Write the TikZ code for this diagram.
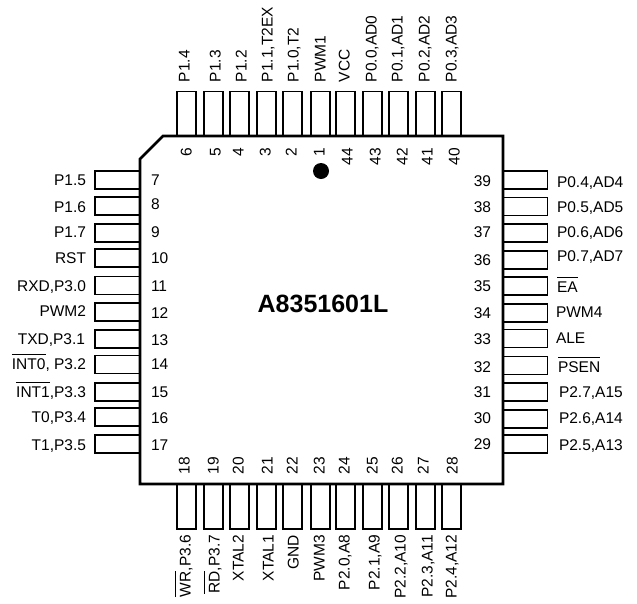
\documentclass[tikz,border=0pt]{standalone}
\usepackage{fontspec}
\setmainfont{Liberation Sans}
\newcommand{\barlabel}[1]{\vbox{\hrule height 1pt\kern 4pt\hbox{#1}}}
\begin{document}
\begin{tikzpicture}[
    x=1pt, y=-1pt,
    pinbase/.style={rectangle, draw, line width=1.4pt, inner sep=0pt, outer sep=0pt},
    hpin/.style={pinbase, minimum width=45pt, minimum height=18pt},
    vpin/.style={pinbase, minimum width=19pt, minimum height=45pt},
    txt/.style={font=\fontsize{15.5}{17}\selectfont, inner sep=0pt, outer sep=0pt},
    lname/.style={txt, anchor=base east, yshift=-5.5pt},
    rname/.style={txt, anchor=base west, yshift=-5.5pt},
    tname/.style={txt, anchor=base west, xshift=5.5pt, rotate=90},
    bname/.style={txt, anchor=base east, xshift=5.5pt, rotate=90},
    lnum/.style={txt, anchor=base west, yshift=-5.5pt},
    rnum/.style={txt, anchor=base east, yshift=-5.5pt},
    tnum/.style={txt, anchor=base east, xshift=5.5pt, rotate=90},
    bnum/.style={txt, anchor=base west, xshift=5.5pt, rotate=90}
]
    \useasboundingbox (0,0) rectangle (637,603);

    % Left pins
    \node[hpin] (pin7) at (117.5,180) {};  \node[lnum] (num7) at (151,180) {7};   \node[lname] (name7) at (86,180) {P1.5};
    \node[hpin] (pin8) at (117.5,206) {};  \node[lnum] (num8) at (151,204) {8};   \node[lname] (name8) at (86,207) {P1.6};
    \node[hpin] (pin9) at (117.5,233) {};  \node[lnum] (num9) at (151,232) {9};   \node[lname] (name9) at (86,232) {P1.7};
    \node[hpin] (pin10) at (117.5,258) {}; \node[lnum] (num10) at (151,258) {10}; \node[lname] (name10) at (86,258) {RST};
    \node[hpin] (pin11) at (117.5,285.5) {}; \node[lnum] (num11) at (151,286) {11}; \node[lname] (name11) at (86,286) {RXD,P3.0};
    \node[hpin] (pin12) at (117.5,312) {}; \node[lnum] (num12) at (151,313) {12}; \node[lname] (name12) at (86,311) {PWM2};
    \node[hpin] (pin13) at (117.5,339) {}; \node[lnum] (num13) at (151,340) {13}; \node[lname] (name13) at (85,339) {TXD,P3.1};
    \node[hpin] (pin14) at (117.5,364.5) {}; \node[lnum] (num14) at (151,364) {14}; \node[lname] (name14) at (86,364) {\barlabel{INT0}, P3.2};
    \node[hpin] (pin15) at (117.5,392) {}; \node[lnum] (num15) at (151,392) {15}; \node[lname] (name15) at (86,392) {\barlabel{INT1},P3.3};
    \node[hpin] (pin16) at (117.5,417) {}; \node[lnum] (num16) at (151,418) {16}; \node[lname] (name16) at (86,417) {T0,P3.4};
    \node[hpin] (pin17) at (117.5,444) {}; \node[lnum] (num17) at (151,445) {17}; \node[lname] (name17) at (86,445) {T1,P3.5};

    % Right pins
    \node[hpin] (pin39) at (525,180) {}; \node[rnum] (num39) at (491,181) {39}; \node[rname] (name39) at (557,182) {P0.4,AD4};
    \node[hpin] (pin38) at (525,206.5) {}; \node[rnum] (num38) at (491,207) {38}; \node[rname] (name38) at (557,207) {P0.5,AD5};
    \node[hpin] (pin37) at (525,233) {}; \node[rnum] (num37) at (491,232) {37}; \node[rname] (name37) at (557,232) {P0.6,AD6};
    \node[hpin] (pin36) at (525,260) {}; \node[rnum] (num36) at (491,260) {36}; \node[rname] (name36) at (557,256) {P0.7,AD7};
    \node[hpin] (pin35) at (525,286) {}; \node[rnum] (num35) at (491,286) {35}; \node[rname] (name35) at (557,287) {\barlabel{EA}};
    \node[hpin] (pin34) at (525,313) {}; \node[rnum] (num34) at (491,313) {34}; \node[rname] (name34) at (556,312) {PWM4};
    \node[hpin] (pin33) at (525,338.5) {}; \node[rnum] (num33) at (491,339) {33}; \node[rname] (name33) at (556,338) {ALE};
    \node[hpin] (pin32) at (525,365.5) {}; \node[rnum] (num32) at (491,367) {32}; \node[rname] (name32) at (558,367) {\barlabel{PSEN}};
    \node[hpin] (pin31) at (525,392) {}; \node[rnum] (num31) at (491,392) {31}; \node[rname] (name31) at (559,392) {P2.7,A15};
    \node[hpin] (pin30) at (525,419) {}; \node[rnum] (num30) at (491,418) {30}; \node[rname] (name30) at (559,418) {P2.6,A14};
    \node[hpin] (pin29) at (525,444) {}; \node[rnum] (num29) at (491,444) {29}; \node[rname] (name29) at (559,445) {P2.5,A13};

    % Top pins
    \node[vpin] (pin6) at (186.5,114) {}; \node[tnum] (num6) at (186,148) {6}; \node[tname] (name6) at (184,82) {P1.4};
    \node[vpin] (pin5) at (213.5,114) {}; \node[tnum] (num5) at (215,148) {5}; \node[tname] (name5) at (215,82) {P1.3};
    \node[vpin] (pin4) at (239.5,114) {}; \node[tnum] (num4) at (238,148) {4}; \node[tname] (name4) at (241,82) {P1.2};
    \node[vpin] (pin3) at (266.5,114) {}; \node[tnum] (num3) at (265,148) {3}; \node[tname] (name3) at (267,82) {P1.1,T2EX};
    \node[vpin] (pin2) at (292.5,114) {}; \node[tnum] (num2) at (291,148) {2}; \node[tname] (name2) at (293,82) {P1.0,T2};
    \node[vpin] (pin1) at (320.5,114) {}; \node[tnum] (num1) at (319,148) {1}; \node[tname] (name1) at (320,82) {PWM1};
    \node[vpin] (pin44) at (345.5,114) {}; \node[tnum] (num44) at (347,148) {44}; \node[tname] (name44) at (344,82) {VCC};
    \node[vpin] (pin43) at (372.5,114) {}; \node[tnum] (num43) at (375,148) {43}; \node[tname] (name43) at (371,82) {P0.0,AD0};
    \node[vpin] (pin42) at (398.5,114) {}; \node[tnum] (num42) at (402,148) {42}; \node[tname] (name42) at (397,82) {P0.1,AD1};
    \node[vpin] (pin41) at (425.5,114) {}; \node[tnum] (num41) at (427,148) {41}; \node[tname] (name41) at (424,82) {P0.2,AD2};
    \node[vpin] (pin40) at (451.5,114) {}; \node[tnum] (num40) at (454,148) {40}; \node[tname] (name40) at (451,82) {P0.3,AD3};

    % Bottom pins
    \node[vpin] (pin18) at (186.5,506.5) {}; \node[bnum] (num18) at (184,474) {18}; \node[bname] (name18) at (185,535) {\barlabel{WR},P3.6};
    \node[vpin] (pin19) at (213.5,506.5) {}; \node[bnum] (num19) at (213,474) {19}; \node[bname] (name19) at (214,535) {\barlabel{RD},P3.7};
    \node[vpin] (pin20) at (239.5,506.5) {}; \node[bnum] (num20) at (238,474) {20}; \node[bname] (name20) at (238,535) {XTAL2};
    \node[vpin] (pin21) at (266.5,506.5) {}; \node[bnum] (num21) at (267,474) {21}; \node[bname] (name21) at (268,535) {XTAL1};
    \node[vpin] (pin22) at (292.5,506.5) {}; \node[bnum] (num22) at (292,474) {22}; \node[bname] (name22) at (293,535) {GND};
    \node[vpin] (pin23) at (320.5,506.5) {}; \node[bnum] (num23) at (319,474) {23}; \node[bname] (name23) at (319,535) {PWM3};
    \node[vpin] (pin24) at (345.5,506.5) {}; \node[bnum] (num24) at (344,474) {24}; \node[bname] (name24) at (344,535) {P2.0,A8};
    \node[vpin] (pin25) at (372.5,506.5) {}; \node[bnum] (num25) at (372,474) {25}; \node[bname] (name25) at (374,535) {P2.1,A9};
    \node[vpin] (pin26) at (398.5,506.5) {}; \node[bnum] (num26) at (397,474) {26}; \node[bname] (name26) at (400,535) {P2.2,A10};
    \node[vpin] (pin27) at (425.5,506.5) {}; \node[bnum] (num27) at (423,474) {27}; \node[bname] (name27) at (427,535) {P2.3,A11};
    \node[vpin] (pin28) at (451.5,506.5) {}; \node[bnum] (num28) at (452,474) {28}; \node[bname] (name28) at (451,535) {P2.4,A12};

    % Package outline
    \draw[line width=2.6pt] (163,136) -- (503,136) -- (503,484) -- (140,484) -- (140,159) -- cycle;
    \fill (321,171) circle (8);
    \node[txt, font=\fontsize{25}{27}\selectfont\bfseries] (partname) at (323,304) {A8351601L};
\end{tikzpicture}
\end{document}
